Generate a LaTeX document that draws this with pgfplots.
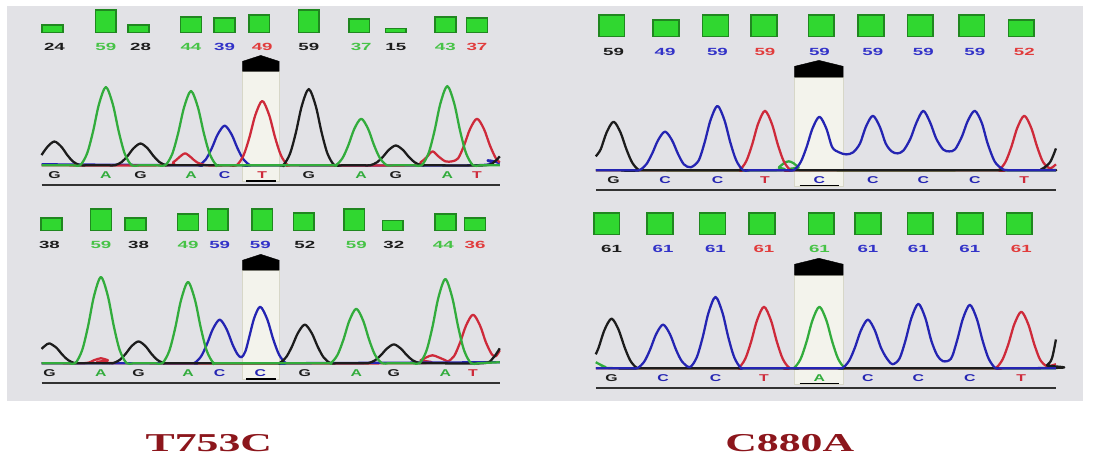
\documentclass[border=0pt]{standalone}
\usepackage{pgfplots}
\pgfplotsset{compat=1.18}
\usepackage{fontspec}
\setmainfont{Liberation Sans}
\newfontfamily\titlefont{Liberation Serif}
\definecolor{bg}{RGB}{226,226,230}
\definecolor{colfill}{RGB}{243,243,236}
\definecolor{coldraw}{RGB}{215,215,200}
\definecolor{tG}{RGB}{28,28,28}
\definecolor{tA}{RGB}{50,172,60}
\definecolor{tC}{RGB}{36,36,178}
\definecolor{tT}{RGB}{206,42,58}
\definecolor{nA}{RGB}{70,195,70}
\definecolor{nC}{RGB}{50,50,200}
\definecolor{nT}{RGB}{225,60,60}
\definecolor{barf}{RGB}{48,215,48}
\definecolor{bard}{RGB}{32,135,32}
\definecolor{ttl}{RGB}{140,22,28}
\definecolor{ln}{RGB}{50,50,50}
\pgfplotsset{
  canvas/.style={scale only axis, width=1094pt, height=461pt,
    xmin=0, xmax=1094, ymin=0, ymax=461, y dir=reverse,
    enlargelimits=false, hide axis, clip=false, at={(0,0)}, anchor=south west},
  num/.style={draw=none, mark=none, nodes near coords, point meta=explicit symbolic,
    every node near coord/.style={anchor=center, inner sep=0pt,
      font=\bfseries\fontsize{10.5}{10.5}\selectfont, xscale=1.8, text=#1}},
  base/.style={draw=none, mark=none, nodes near coords, point meta=explicit symbolic,
    every node near coord/.style={anchor=center, inner sep=0pt,
      font=\bfseries\fontsize{10}{10}\selectfont, xscale=1.6, text=#1}},
  tr/.style={line width=2.3pt, smooth, color=#1, line join=round, mark=none},
}
\begin{document}
\begin{tikzpicture}
\begin{axis}[canvas]
% backgrounds
\addplot[fill=white, draw=none] coordinates {(0,0)(1094,0)(1094,461)(0,461)} -- cycle;
\addplot[fill=bg, draw=none] coordinates {(7,6)(1094,6)(1094,405)(7,405)} -- cycle;
% highlight columns
\addplot[fill=colfill, draw=coldraw, line width=0.8pt] coordinates {(245,72)(282,72)(282,183)(245,183)} -- cycle;
\addplot[fill=colfill, draw=coldraw, line width=0.8pt] coordinates {(803,78)(852,78)(852,188)(803,188)} -- cycle;
\addplot[fill=colfill, draw=coldraw, line width=0.8pt] coordinates {(245,273)(282,273)(282,383)(245,383)} -- cycle;
\addplot[fill=colfill, draw=coldraw, line width=0.8pt] coordinates {(803,278)(852,278)(852,388)(803,388)} -- cycle;
% arrows
\addplot[fill=black, draw=black] coordinates {(245,72)(245,62)(263.5,56)(282,62)(282,72)} -- cycle;
\addplot[fill=black, draw=black] coordinates {(803,78)(803,67)(827.5,61)(852,67)(852,78)} -- cycle;
\addplot[fill=black, draw=black] coordinates {(245,273)(245,263)(263.5,257)(282,263)(282,273)} -- cycle;
\addplot[fill=black, draw=black] coordinates {(803,278)(803,267)(827.5,261)(852,267)(852,278)} -- cycle;

% ===== top-left traces (baseline 167)
\addplot[tr=tC] coordinates {(42,166)(193,167)(201,167)(208,161)(214,149.8)(220,135.8)(227,127)(234,135.8)(240,149.8)(246,161)(253,167)(261,167)(480,167)(493,162)(505,165)};
\addplot[tr=tT] coordinates {(42,167)(165,167)(175,164)(181,159)(187,155)(193,159)(199,164)(209,167)(231,167)(239,167)(246,157.2)(252,139)(258,116.3)(265,102)(272,116.3)(278,139)(284,157.2)(291,167)(299,167)(415,167)(425,164)(431,159)(437,153)(443,158)(450,163)(457,163)(463,159.9)(469,146.8)(475,130.3)(482,120)(489,130.3)(495,146.8)(501,159.9)(505,164)};
\addplot[tr=tG] coordinates {(42,156.7)(48,148.3)(55,143)(62,148.3)(68,156.7)(74,163.4)(81,167)(89,167)(108,167)(116,167)(123,163.7)(129,157.5)(135,149.8)(142,145)(149,149.8)(155,157.5)(161,163.7)(168,167)(176,167)(278,167)(286,167)(293,155.4)(299,133.9)(305,106.9)(312,90)(319,106.9)(325,133.9)(331,155.4)(338,167)(346,167)(366,167)(374,167)(381,164)(387,158.4)(393,151.4)(400,147)(407,151.4)(413,158.4)(419,164)(426,167)(434,167)(490,167)(500,163)(505,158)};
\addplot[tr=tA] coordinates {(42,167)(73,167)(81,167)(88,155.1)(94,133)(100,105.4)(107,88)(114,105.4)(120,133)(126,155.1)(133,167)(141,167)(159,167)(167,167)(174,155.7)(180,134.7)(186,108.5)(193,92)(200,108.5)(206,134.7)(212,155.7)(219,167)(227,167)(331,167)(339,167)(346,159.9)(352,146.8)(358,130.3)(365,120)(372,130.3)(378,146.8)(384,159.9)(391,167)(399,167)(418,167)(426,167)(433,155)(439,132.6)(445,104.6)(452,87)(459,104.6)(465,132.6)(471,155)(478,167)(486,167)(505,167)};

% ===== top-right traces (baseline 172)
\addplot[tr=tA] coordinates {(602,172)(780,172)(787,169)(792,165)(797,163)(802,165)(807,169)(814,172)(1067,172)};
\addplot[tr=tT] coordinates {(602,172)(739,172)(747,172)(754,163)(760,146.2)(766,125.2)(773,112)(780,125.2)(786,146.2)(792,163)(799,172)(807,172)(1001,172)(1009,172)(1016,163.7)(1022,148.3)(1028,129.1)(1035,117)(1042,129.1)(1048,148.3)(1054,163.7)(1061,170)(1067,166)};
\addplot[tr=tG] coordinates {(602,158)(607,150.9)(613,133.8)(620,123)(627,133.8)(633,150.9)(639,164.6)(646,172)(654,172)(1040,172)(1052,171)(1061,164)(1067,150)};
\addplot[tr=tC] coordinates {(602,172)(638,172)(646,172)(653,166.1)(659,155.2)(665,141.6)(672,133)(679,141.6)(685,155.2)(691,166)(698,169)(706,162.2)(712,144)(718,121.3)(725,107)(732,121.3)(738,144)(744,162.2)(751,172)(759,172)(794,172)(802,172)(809,163.9)(815,148.8)(821,129.9)(828,118)(835,129.9)(841,148.8)(848,154)(855,156)(862,154)(869,145)(875,128)(882,117)(889,128)(895,145)(901,153)(907,155)(913,152)(920,140)(926,124)(933,112)(940,124)(946,140)(953,151)(959,153)(965,151)(972,138)(978,122)(985,112)(992,124)(998,145)(1005,163)(1012,170)(1020,172)(1067,172)};

% ===== bottom-left traces (baseline 367)
\addplot[tr=tT] coordinates {(42,367)(85,367)(95,364)(102,362)(109,364)(119,367)(415,367)(425,364)(431,361)(437,359)(443,361)(450,364)(453,365)(459,359.6)(465,345.9)(471,328.8)(478,318)(485,328.8)(491,345.9)(497,358)(501,360)(505,354)};
\addplot[tr=tC] coordinates {(42,367)(188,367)(196,367)(203,360.4)(209,348.1)(215,332.7)(222,323)(229,332.7)(235,348.1)(240,358)(244,361)(248,355)(252,340)(257,321)(263,310)(270,322.5)(276,342.5)(282,358.4)(289,367)(297,367)(505,366)};
\addplot[tr=tG] coordinates {(42,352.5)(46,349)(50,347)(57,351.4)(63,358.4)(69,364)(76,367)(84,367)(106,367)(114,367)(121,363.7)(127,357.5)(133,349.8)(140,345)(147,349.8)(153,357.5)(159,363.7)(166,367)(174,367)(274,367)(282,367)(289,361.1)(295,350.2)(301,336.6)(308,328)(315,336.6)(321,350.2)(327,361.1)(334,367)(342,367)(364,367)(372,367)(379,364.1)(385,358.8)(391,352.2)(398,348)(405,352.2)(411,358.8)(417,364.1)(424,367)(432,367)(488,367)(498,362)(505,352)};
\addplot[tr=tA] coordinates {(42,367)(68,367)(76,367)(83,353.9)(89,329.6)(95,299.1)(102,280)(109,299.1)(115,329.6)(121,353.9)(128,367)(136,367)(156,367)(164,367)(171,354.7)(177,331.7)(183,303)(190,285)(197,303)(203,331.7)(209,354.7)(216,367)(224,367)(326,367)(334,367)(341,358.7)(347,343.3)(353,324.1)(360,312)(367,324.1)(373,343.3)(379,358.7)(386,367)(394,367)(416,367)(424,367)(431,354.2)(437,330.4)(443,300.7)(450,282)(457,300.7)(463,330.4)(469,354.2)(476,367)(484,367)(505,366)};

% ===== bottom-right traces (baseline 372)
\addplot[tr=tA] coordinates {(602,366)(612,371)(620,372)(794,372)(802,372)(809,362.7)(815,345.3)(821,323.6)(828,310)(835,323.6)(841,345.3)(847,362.7)(854,372)(862,372)(1067,372)};
\addplot[tr=tT] coordinates {(602,372)(738,372)(746,372)(753,362.7)(759,345.3)(765,323.6)(772,310)(779,323.6)(785,345.3)(791,362.7)(798,372)(806,372)(998,372)(1006,372)(1013,363.4)(1019,347.5)(1025,327.5)(1032,315)(1039,327.5)(1045,347.5)(1051,363.4)(1058,370)(1067,368)};
\addplot[tr=tG] coordinates {(602,358)(605,351)(611,333)(618,322)(625,333)(631,350.5)(637,364.5)(644,372)(652,372)(1048,372)(1058,369)(1063,362)(1067,343)};
\addplot[tr=tC] coordinates {(602,372)(636,372)(644,372)(651,365.4)(657,353.1)(663,337.7)(670,328)(677,337.7)(683,353.1)(689,365)(697,371)(704,361.2)(710,341)(716,315.8)(723,300)(730,315.8)(736,341)(742,361.2)(749,372)(757,372)(843,372)(851,372)(858,364.6)(864,350.9)(870,333.8)(877,323)(884,333.8)(890,350.9)(896,362)(902,368)(909,362.2)(915,344)(921,321.3)(928,307)(935,321.3)(941,344)(947,359)(953,365)(961,362.4)(967,344.5)(973,322.1)(980,308)(987,322.1)(993,344.5)(999,362.4)(1006,372)(1014,372)(1067,372)};

% baselines under letters and underlines
\addplot[line width=2.5pt, color=ln] coordinates {(42,187)(505,187)};
\addplot[line width=2.5pt, color=ln] coordinates {(602,192)(1067,192)};
\addplot[line width=2.5pt, color=ln] coordinates {(42,387)(505,387)};
\addplot[line width=2.5pt, color=ln] coordinates {(602,392)(1067,392)};
\addplot[line width=1.5pt, color=black] coordinates {(249,183)(279,183)};
\addplot[line width=1.5pt, color=black] coordinates {(808,187.5)(848,187.5)};
\addplot[line width=1.5pt, color=black] coordinates {(249,383)(279,383)};
\addplot[line width=1.5pt, color=black] coordinates {(808,387.5)(848,387.5)};

% base letters
\addplot[base=tG] coordinates {(55,177)[G](142,177)[G](312,177)[G](400,177)[G] (620,182)[G] (50,377)[G](140,377)[G](308,377)[G](398,377)[G] (618,382)[G]};
\addplot[base=tA] coordinates {(107,177)[A](193,177)[A](365,177)[A](452,177)[A] (102,377)[A](190,377)[A](360,377)[A](450,377)[A] (828,382)[A]};
\addplot[base=tC] coordinates {(227,177)[C] (672,182)[C](725,182)[C](828,182)[C](882,182)[C](933,182)[C](985,182)[C] (222,377)[C](263,377)[C] (670,382)[C](723,382)[C](877,382)[C](928,382)[C](980,382)[C]};
\addplot[base=tT] coordinates {(265,177)[T](482,177)[T] (773,182)[T](1035,182)[T] (478,377)[T] (772,382)[T](1032,382)[T]};

% quality numbers
\addplot[num=tG] coordinates {(55,47)[24](142,47)[28](312,47)[59](400,47)[15] (620,52)[59] (50,247)[38](140,247)[38](308,247)[52](398,247)[32] (618,252)[61]};
\addplot[num=nA] coordinates {(107,47)[59](193,47)[44](365,47)[37](450,47)[43] (102,247)[59](190,247)[49](360,247)[59](448,247)[44] (828,252)[61]};
\addplot[num=nC] coordinates {(227,47)[39] (672,52)[49](725,52)[59](828,52)[59](882,52)[59](933,52)[59](985,52)[59] (222,247)[59](263,247)[59] (670,252)[61](723,252)[61](877,252)[61](928,252)[61](980,252)[61]};
\addplot[num=nT] coordinates {(265,47)[49](482,47)[37] (773,52)[59](1035,52)[52] (480,247)[36] (772,252)[61](1032,252)[61]};

% titles
\node[font=\titlefont\bfseries\fontsize{26}{26}\selectfont, text=ttl, xscale=1.7] at (axis cs:211,448) {T753C};
\node[font=\titlefont\bfseries\fontsize{26}{26}\selectfont, text=ttl, xscale=1.7] at (axis cs:798,448) {C880A};
\end{axis}

% quality bars, left column
\begin{axis}[canvas, ybar stacked, bar width=21]
\addplot[draw=none, fill=none] coordinates {(53,25)(107,10)(140,25)(193,17)(227,18)(262,15)(312,10)(363,19)(400,29)(450,17)(482,18) (52,220)(102,211)(137,220)(190,216)(220,211)(265,211)(307,215)(358,211)(397,223)(450,216)(480,220)};
\addplot[fill=barf, draw=bard, line width=1.6pt] coordinates {(53,8)(107,23)(140,8)(193,16)(227,15)(262,18)(312,23)(363,14)(400,4)(450,16)(482,15) (52,13)(102,22)(137,13)(190,17)(220,22)(265,22)(307,18)(358,22)(397,10)(450,17)(480,13)};
\end{axis}

% quality bars, right column
\begin{axis}[canvas, ybar stacked, bar width=26]
\addplot[draw=none, fill=none] coordinates {(618,15)(673,20)(723,15)(772,15)(830,15)(880,15)(930,15)(982,15)(1032,20) (613,215)(667,215)(720,215)(770,215)(830,215)(877,215)(930,215)(980,215)(1030,215)};
\addplot[fill=barf, draw=bard, line width=1.6pt] coordinates {(618,22)(673,17)(723,22)(772,22)(830,22)(880,22)(930,22)(982,22)(1032,17) (613,22)(667,22)(720,22)(770,22)(830,22)(877,22)(930,22)(980,22)(1030,22)};
\end{axis}
\end{tikzpicture}
\end{document}
